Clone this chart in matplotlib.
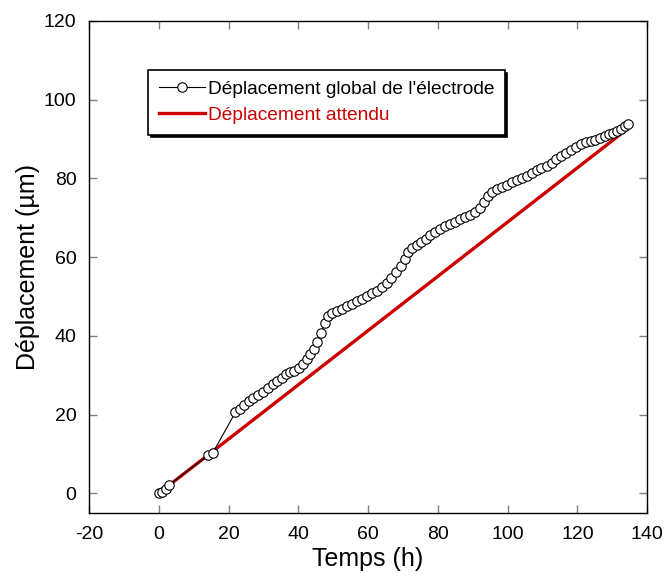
import matplotlib
matplotlib.use("Agg")
from matplotlib import pyplot as plt

# measured electrode displacement (h, um)
temps = [0, 1, 2, 3, 14.2, 15.5, 22, 23.2, 24.5, 25.8, 27.1, 28.5, 30.0, 31.4,
         32.8, 34.0, 35.2, 36.5, 37.6, 38.9, 40.2, 41.4, 42.4, 43.4, 44.5, 45.5,
         46.6, 47.6, 48.6, 49.7, 51.0, 52.5, 53.9, 55.3, 56.8, 58.2, 59.6, 61.1,
         62.5, 63.9, 65.3, 66.7, 68.0, 69.4, 70.6, 71.6, 72.7, 73.9, 75.2, 76.5,
         77.9, 79.3, 80.7, 82.1, 83.6, 85.0, 86.4, 87.8, 89.2, 90.6, 92.0, 93.2,
         94.3, 95.6, 97.0, 98.4, 99.8, 101.2, 102.6, 104.0, 105.5, 106.9, 108.3,
         109.7, 111.2, 112.6, 114.0, 115.4, 116.8, 118.2, 119.6, 121.0, 122.4,
         123.8, 125.2, 126.6, 127.8, 129.0, 130.2, 131.4, 132.6, 133.6, 134.4]
deplacement = [0, 0.4, 1.1, 2.2, 9.7, 10.3, 20.6, 21.5, 22.4, 23.4, 24.3, 25.1,
               25.8, 26.8, 27.7, 28.5, 29.4, 30.4, 30.9, 31.2, 31.8, 32.8, 34.2,
               35.5, 36.7, 38.4, 40.8, 43.2, 45.0, 45.9, 46.4, 46.9, 47.5, 48.2,
               48.8, 49.4, 50.1, 50.8, 51.4, 52.3, 53.4, 54.7, 56.2, 57.8, 59.6,
               61.2, 62.3, 63.1, 63.9, 64.7, 65.5, 66.3, 67.1, 67.9, 68.5, 69.0,
               69.6, 70.1, 70.7, 71.5, 72.6, 74.0, 75.4, 76.5, 77.2, 77.8, 78.4,
               79.1, 79.7, 80.1, 80.7, 81.4, 82.1, 82.7, 83.2, 83.9, 84.8, 85.6,
               86.5, 87.3, 88.1, 88.8, 89.2, 89.4, 89.7, 90.2, 90.8, 91.2, 91.6,
               92.0, 92.6, 93.2, 93.8]

# expected displacement (straight line)
temps_attendu = [0, 134.4]
deplacement_attendu = [0, 92.6]

plt.rcParams['font.family'] = ['Liberation Sans', 'DejaVu Sans']
plt.rcParams['axes.unicode_minus'] = False

fig = plt.figure(figsize=(6.66, 5.81), dpi=100)
ax = fig.add_axes([0.1336, 0.117, 0.838, 0.847])

ax.plot(temps_attendu, deplacement_attendu, color='#cc0000', lw=2.4,
        label='Déplacement attendu', zorder=2)
ax.plot(temps, deplacement, color='black', lw=0.8, marker='o', markersize=6.8,
        markerfacecolor='white', markeredgecolor='black', markeredgewidth=0.8,
        label="Déplacement global de l'électrode", zorder=3)

ax.set_xlim(-20, 140)
ax.set_ylim(-5, 120)
ax.set_xticks(range(-20, 141, 20))
ax.set_yticks(range(0, 121, 20))
ax.tick_params(direction='in', length=6, width=1, color='#808080',
               top=True, right=True, labelsize=14, pad=9)
for s in ax.spines.values():
    s.set_linewidth(1.0)

ax.set_xlabel('Temps (h)', fontsize=18, labelpad=3)
ax.set_ylabel('Déplacement (µm)', fontsize=18, labelpad=3)

handles, labels = ax.get_legend_handles_labels()
leg = ax.legend(handles[::-1], labels[::-1], loc='upper left',
                bbox_to_anchor=(0.106, 0.9), fontsize=13.8, frameon=True,
                fancybox=False, shadow={'color': 'black', 'alpha': 1},
                edgecolor='black', handlelength=2.4, handletextpad=0.15,
                borderpad=0.55, labelspacing=0.45, borderaxespad=0)
leg.get_frame().set_linewidth(1.2)
leg.get_texts()[1].set_color('#cc0000')

plt.savefig('out.png')
